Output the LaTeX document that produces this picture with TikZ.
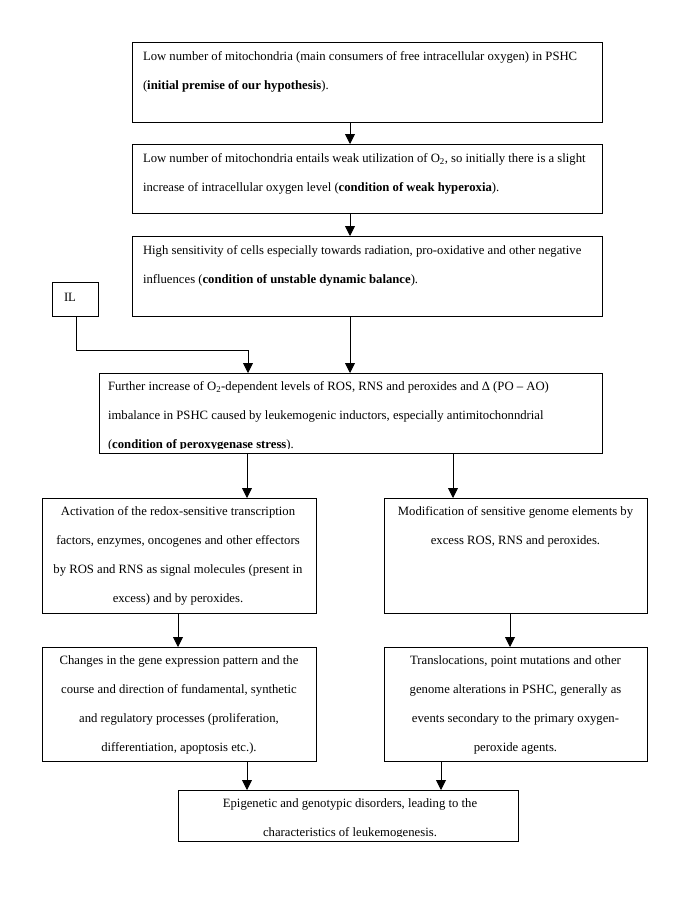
\documentclass[tikz,border=0pt]{standalone}
\usepackage{fontspec}
\setmainfont{Liberation Serif}
\usetikzlibrary{arrows.meta}
\begin{document}
\begin{tikzpicture}[x=1pt,y=-1pt,
  box/.style={draw=black, line width=0.9pt, inner sep=0pt, outer sep=0pt},
  txt/.style={inner sep=0pt, outer sep=0pt, font=\fontsize{12.7}{28.8}\selectfont},
  ltxt/.style={txt, align=left, anchor=north west},
  ctxt/.style={txt, align=center, anchor=north},
  arr/.style={line width=0.9pt, -{Triangle[length=10pt,width=10pt]}}]
\fill[white] (0,0) rectangle (685,907);
\useasboundingbox (0,0) rectangle (685,907);
% boxes
\node[box, minimum width=470pt, minimum height=80pt] (b1) at (367,82) {};
\node[box, minimum width=470pt, minimum height=69pt] (b2) at (367,178.5) {};
\node[box, minimum width=470pt, minimum height=80pt] (b3) at (367,276) {};
\node[box, minimum width=46pt, minimum height=34pt] (il) at (75,299) {};
\node[box, minimum width=503pt, minimum height=80pt] (b4) at (350.5,413) {};
\node[box, minimum width=274pt, minimum height=115pt] (bl) at (179,555.5) {};
\node[box, minimum width=263pt, minimum height=115pt] (br) at (515.5,555.5) {};
\node[box, minimum width=274pt, minimum height=114pt] (bll) at (179,704) {};
\node[box, minimum width=263pt, minimum height=114pt] (brl) at (515.5,704) {};
\node[box, minimum width=340pt, minimum height=51pt] (bot) at (348,815.5) {};
% texts
\node[ltxt] (t1) at (143,51.5) {Low number of mitochondria (main consumers of free intracellular oxygen) in PSHC\\(\textbf{initial premise of our hypothesis}).};
\node[ltxt] (t2) at (143,153.5) {Low number of mitochondria entails weak utilization of O\textsubscript{2}, so initially there is a slight\\increase of intracellular oxygen level (\textbf{condition of weak hyperoxia}).};
\node[ltxt] (t3) at (143,246) {High sensitivity of cells especially towards radiation, pro-oxidative and other negative\\influences (\textbf{condition of unstable dynamic balance}).};
\node[txt, anchor=base] (til) at (70,301.5) {IL};
\begin{scope}
\clip (99,373) rectangle (602,448);
\node[ltxt] (t4) at (108,382) {Further increase of O\textsubscript{2}-dependent levels of ROS, RNS and peroxides and Δ (PO – AO)\\imbalance in PSHC caused by leukemogenic inductors, especially antimitochonndrial\\(\textbf{condition of peroxygenase stress}).};
\end{scope}
\node[ctxt] (tl) at (178,507) {Activation of the redox-sensitive transcription\\factors, enzymes, oncogenes and other effectors\\by ROS and RNS as signal molecules (present in\\excess) and by peroxides.};
\node[ctxt] (tr) at (515.5,507) {Modification of sensitive genome elements by\\excess ROS, RNS and peroxides.};
\node[ctxt] (tll) at (179,656) {Changes in the gene expression pattern and the\\course and direction of fundamental, synthetic\\and regulatory processes (proliferation,\\differentiation, apoptosis etc.).};
\node[ctxt] (trl) at (515.5,656) {Translocations, point mutations and other\\genome alterations in PSHC, generally as\\events secondary to the primary oxygen-\\peroxide agents.};
\begin{scope}
\clip (178,790) rectangle (518,836);
\node[ctxt] (tbot) at (350,798.5) {Epigenetic and genotypic disorders, leading to the\\characteristics of leukemogenesis.};
\end{scope}
% connector x positions
\coordinate (xa) at (350,0);
\coordinate (xil) at (76,0);
\coordinate (ilbend) at (248,350);
\coordinate (xl) at (247,0);
\coordinate (xr) at (453,0);
\coordinate (xll) at (178,0);
\coordinate (xrr) at (510,0);
\coordinate (xbr) at (441,0);
% connectors
\draw[arr] (b1.south -| xa) -- (b2.north -| xa);
\draw[arr] (b2.south -| xa) -- (b3.north -| xa);
\draw[arr] (b3.south -| xa) -- (b4.north -| xa);
\draw[arr] (il.south -| xil) |- (ilbend) -- (b4.north -| ilbend);
\draw[arr] (b4.south -| xl) -- (bl.north -| xl);
\draw[arr] (b4.south -| xr) -- (br.north -| xr);
\draw[arr] (bl.south -| xll) -- (bll.north -| xll);
\draw[arr] (br.south -| xrr) -- (brl.north -| xrr);
\draw[arr] (bll.south -| xl) -- (bot.north -| xl);
\draw[arr] (brl.south -| xbr) -- (bot.north -| xbr);
\end{tikzpicture}
\end{document}
